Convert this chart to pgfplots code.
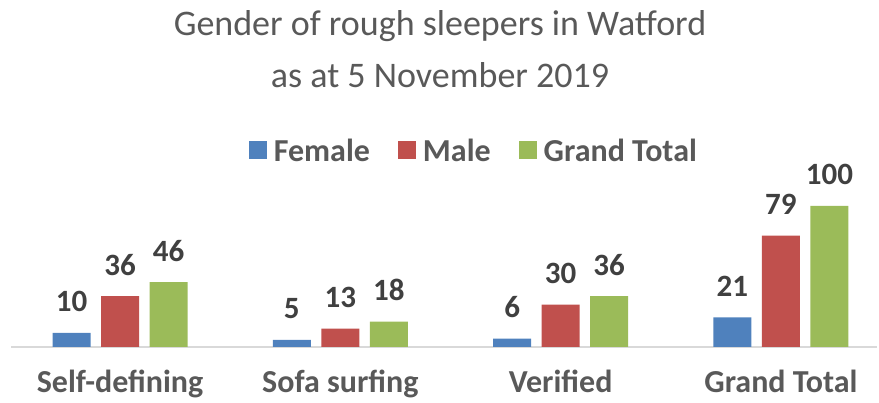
\documentclass[border=0pt]{standalone}
\usepackage{pgfplots}
\pgfplotsset{compat=1.18}
\usepackage{fontspec}
\setmainfont{Carlito}
\definecolor{cblue}{HTML}{4F81BD}
\definecolor{cred}{HTML}{C0504D}
\definecolor{cgreen}{HTML}{9BBB59}
\definecolor{ctext}{HTML}{404040}
\definecolor{ctitle}{HTML}{595959}
\definecolor{caxis}{HTML}{D9D9D9}
\begin{document}
\begin{tikzpicture}[x=1pt,y=1pt]
\path[use as bounding box] (0,0) rectangle (879,403);
\node[font=\fontsize{36}{42}\selectfont, text=ctitle, anchor=base, inner sep=0pt] at (440,367) {Gender of rough sleepers in Watford};
\node[font=\fontsize{36}{42}\selectfont, text=ctitle, anchor=base, inner sep=0pt] at (440,315) {as at 5 November 2019};
\begin{axis}[
  at={(11pt,56pt)}, anchor=south west,
  scale only axis, width=866pt, height=169.2pt,
  ybar=10.5pt, bar width=38pt,
  xmin=-0.495, xmax=3.436, ymin=0, ymax=120,
  axis y line=none,
  axis x line*=bottom,
  x axis line style={caxis, line width=1.2pt, -},
  xtick=data,
  xticklabels={Self-defining, Sofa surfing, Verified, Grand Total},
  xtick style={draw=none},
  xticklabel style={font=\fontsize{32}{36}\selectfont\bfseries, text=ctitle, anchor=base, inner sep=1pt, yshift=-41pt},
  nodes near coords,
  /pgf/number format/assume math mode=true,
  nodes near coords style={font=\fontsize{31}{36}\selectfont\bfseries, text=ctext, anchor=base, yshift=21pt},
  legend columns=3,
  legend style={at={(0.5345,1.158)}, anchor=center, draw=none, fill=none,
    font=\fontsize{32}{36}\selectfont\bfseries, text=ctitle,
    /tikz/every odd column/.append style={column sep=5pt},
    /tikz/every even column/.append style={column sep=26pt}},
  legend image code/.code={\fill[#1] (0pt,-8pt) rectangle (18pt,10pt);},
]
\addplot[fill=cblue, draw=none] coordinates {(0,10) (1,5) (2,6) (3,21)};
\addplot[fill=cred, draw=none] coordinates {(0,36) (1,13) (2,30) (3,79)};
\addplot[fill=cgreen, draw=none] coordinates {(0,46) (1,18) (2,36) (3,100)};
\legend{Female, Male, Grand Total}
\end{axis}
\end{tikzpicture}
\end{document}
